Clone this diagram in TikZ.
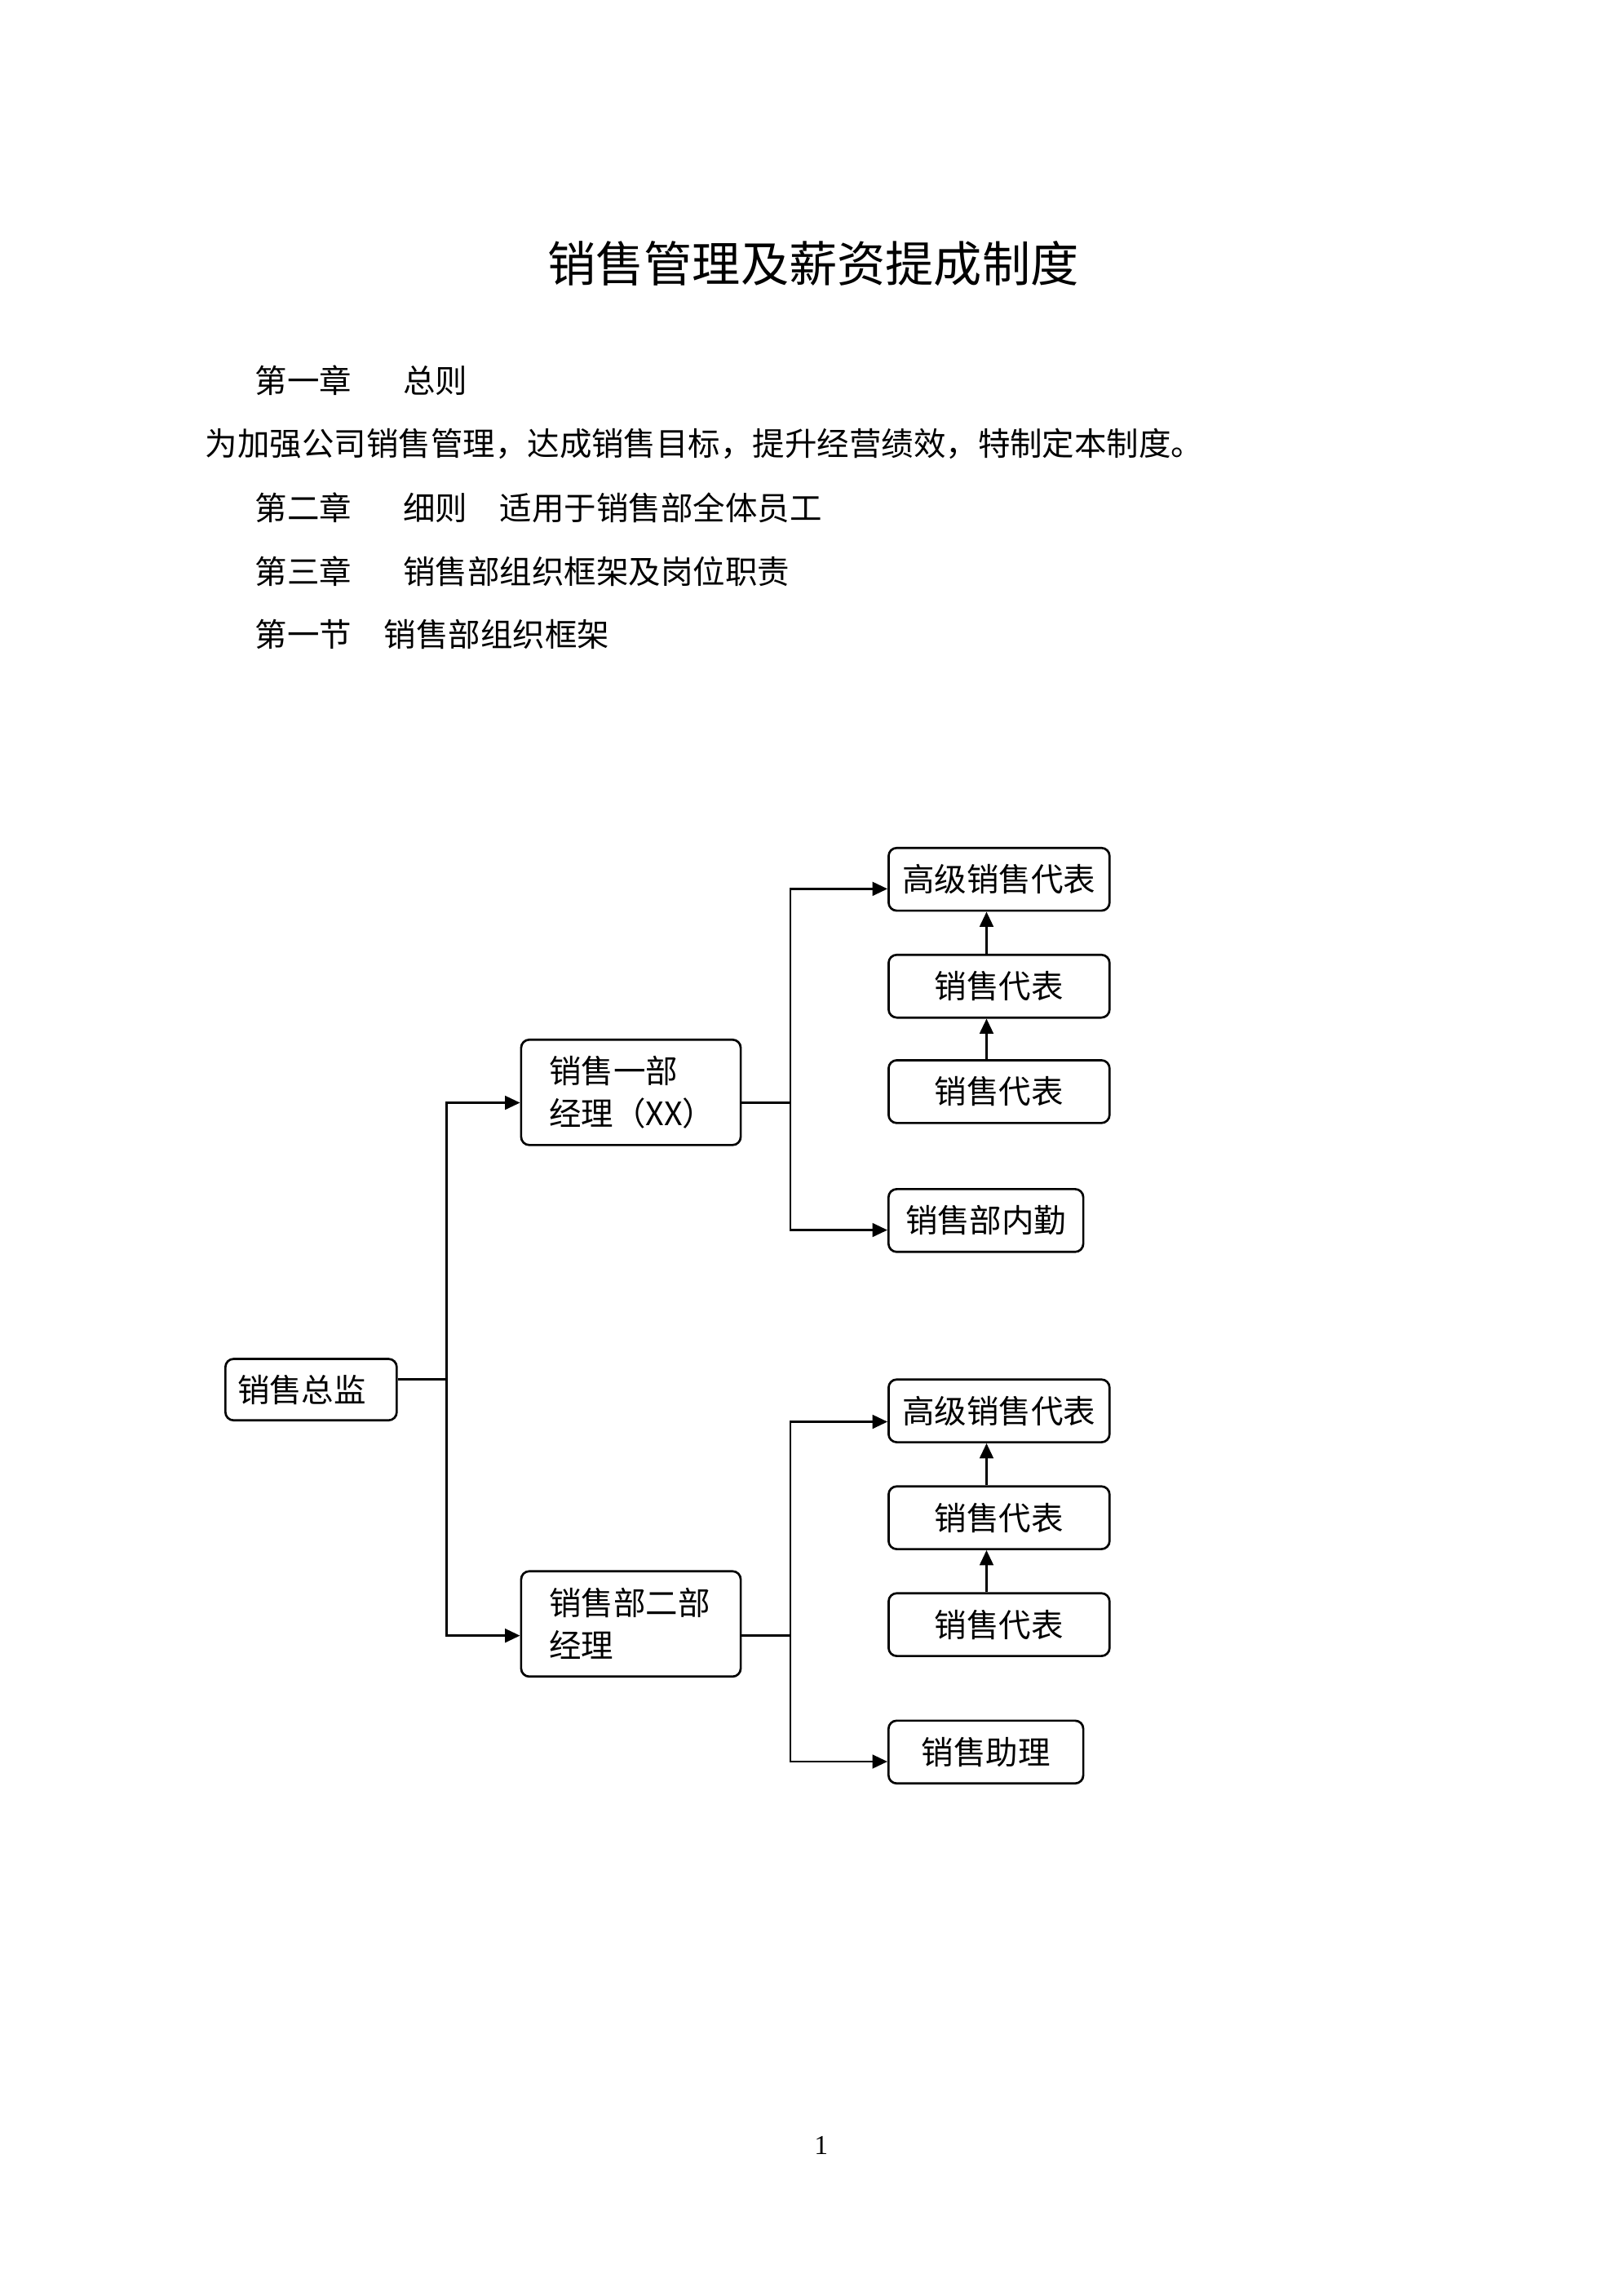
\documentclass[tikz,border=0pt]{standalone}
\usepackage{fontspec}
\setmainfont{Noto Sans CJK SC}
\newfontfamily\numfont{Liberation Serif}
\usepackage{tikz}
\usetikzlibrary{arrows.meta, positioning, calc}

\begin{document}
\begin{tikzpicture}[x=0.5366pt, y=-0.5366pt,
  para/.style={anchor=west, inner sep=0pt, font=\fontsize{11.8}{14}\selectfont},
  box/.style={draw, line width=0.8pt, rounded corners=3pt, fill=white, inner sep=0pt,
              font=\fontsize{11.8}{15.6}\selectfont},
  repbox/.style={box, minimum width=81pt, minimum height=23pt},
  helpbox/.style={box, minimum width=71.4pt, minimum height=23pt},
  mgrbox/.style={box, minimum width=80.5pt, minimum height=38.6pt, text width=60pt, align=left},
  line/.style={line width=0.8pt},
  arr/.style={line width=0.8pt, -{Triangle[length=5.5pt, width=5pt]}}
]
  \fill[white] (0,0) rectangle (1109,1568);
  \useasboundingbox (0,0) rectangle (1109,1568);

  \node[inner sep=0pt, font=\fontsize{17.7}{20}\selectfont] (title) at (555.5,180) {销售管理及薪资提成制度};
  \node[para] (p1) at (174,260) {第一章\hspace{1.6em}总则};
  \node[para] (p2) at (140,303) {为加强公司销售管理，达成销售目标，提升经营绩效，特制定本制度。};
  \node[para] (p3) at (174,347) {第二章\hspace{1.6em}细则\hspace{1em}适用于销售部全体员工};
  \node[para] (p4) at (174,390) {第三章\hspace{1.6em}销售部组织框架及岗位职责};
  \node[para] (p5) at (174,433) {第一节\hspace{1em}销售部组织框架};

  \node[box, minimum width=62.8pt, minimum height=22.5pt, text width=54pt, align=left] (dir) at (212.5,949) {销售总监};
  \node[mgrbox] (m1) at (431,746) {销售一部\\经理（XX）};
  \node[mgrbox] (m2) at (431,1109) {销售部二部\\经理};

  \node[repbox] (a1) at (682.5,600.5) {高级销售代表};
  \node[repbox] (a2) at (682.5,673.5) {销售代表};
  \node[repbox] (a3) at (682.5,745.5) {销售代表};
  \node[helpbox] (a4) at (673.5,833.5) {销售部内勤};

  \node[repbox] (b1) at (682.5,963.5) {高级销售代表};
  \node[repbox] (b2) at (682.5,1036.5) {销售代表};
  \node[repbox] (b3) at (682.5,1109.5) {销售代表};
  \node[helpbox] (b4) at (673.5,1196.5) {销售助理};

  \coordinate (jd) at (305,942);
  \coordinate (j1) at (540,753);
  \coordinate (j2) at (540,1117);

  \draw[line] (dir.east |- jd) -- (jd);
  \draw[arr] (jd) |- ([yshift=-3.8pt]m1.west);
  \draw[arr] (jd) |- ([yshift=-4.3pt]m2.west);

  \draw[line] (m1.east |- j1) -- (j1);
  \draw[arr] (j1) |- ([yshift=-3.5pt]a1.west);
  \draw[arr] (j1) |- ([yshift=-3.5pt]a4.west);
  \draw[arr] ([xshift=-4.6pt]a2.north) -- ([xshift=-4.6pt]a1.south);
  \draw[arr] ([xshift=-4.6pt]a3.north) -- ([xshift=-4.6pt]a2.south);

  \draw[line] (m2.east |- j2) -- (j2);
  \draw[arr] (j2) |- ([yshift=-4pt]b1.west);
  \draw[arr] (j2) |- ([yshift=-3.5pt]b4.west);
  \draw[arr] ([xshift=-4.6pt]b2.north) -- ([xshift=-4.6pt]b1.south);
  \draw[arr] ([xshift=-4.6pt]b3.north) -- ([xshift=-4.6pt]b2.south);

  \node[inner sep=0pt, font=\numfont\fontsize{10}{12}\selectfont] (page) at (561,1465) {1};
\end{tikzpicture}
\end{document}
